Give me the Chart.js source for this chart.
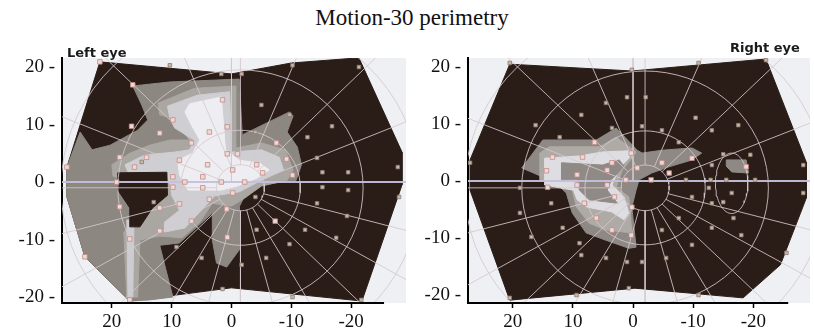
<!DOCTYPE html>
<html>
<head>
<meta charset="utf-8">
<script src="https://cdn.jsdelivr.net/npm/chart.js@4"></script>
<style>
body { margin: 0; background: #fff; width: 814px; height: 336px; overflow: hidden; position: relative; }
canvas { position: absolute; top: 0; }
#title { position: absolute; left: 5px; width: 814px; top: 6px; text-align: center; font: 23px/23px "Liberation Serif", serif; color: #111; }
.eye { position: absolute; z-index: 2; font: bold 13px/13px "DejaVu Sans", sans-serif; color: #1a1a1a; }
</style>
</head>
<body>
<div id="title">Motion-30 perimetry</div>
<div class="eye" style="left:67px;top:46px">Left eye</div>
<div class="eye" style="left:730px;top:41px">Right eye</div>
<canvas id="leftEye" width="410" height="336" style="left:0"></canvas>
<canvas id="rightEye" width="404" height="336" style="left:410px"></canvas>
<script>
// axis ticks (degrees)
const xTicks = [20, 10, 0, -10, -20];
const yTicks = [20, 10, 0, -10, -20];

// polar grid of the perimeter
const gridRings = [4, 10, 20.5, 30];
const gridAngles = [0, 22.5, 45, 67.5, 90, 112.5, 135, 157.5, 195, 210, 225, 240, 255, 270, 285, 300, 315, 330, 345];
const leftCentre = [-1.5, -1];
const rightCentre = [-2, -1.2];

// left eye: tested field and sensitivity zones, outline points [x, y]
const leftField = [[22,20.9],[0,18.8],[-10,20.7],[-21.3,21.6],[-28.5,5.2],[-28.5,-0.5],[-21.8,-20.7],[0,-18.4],[17,-20.7],[24.5,-13],[27.5,-2.6],[27.5,2.6]];
const leftZone1 = [[17,-20.7],[24.5,-13],[27.5,-2.6],[27.5,2.6],[25.3,8.7],[23.3,5.6],[20.3,6.4],[15.7,9],[14,10.8],[15,13.4],[16.5,16.7],[10.3,17.4],[-1.3,17.9],[-1.8,8.2],[-9.7,12.2],[-10.3,11.5],[-9.3,8.7],[-11,6.1],[-11.7,3],[-10.8,0.3],[-3,-0.7],[-1.3,-4.3],[-1.3,-11.8],[0.8,-14.8],[2.5,-14.1],[3.2,-10.1],[3.2,-5.4],[8.7,-10.6],[12,-11],[9.8,-20],[13.7,-20.5]];
const leftZone2 = [[12.3,13.7],[6.2,16.3],[-0.7,16.7],[-0.7,5.9],[-5,6.8],[-9,5.6],[-10.3,2.1],[-9.3,0.3],[-5,-0.7],[-2.2,-2.8],[0,-4.2],[3.2,-3.7],[5.3,-7],[8.3,-9.7],[12,-9.4],[15.3,-10.1],[15.7,-20],[17.5,-20],[18,-8.7],[15.3,-5.7],[12.3,-4],[11.2,-2.3],[12,0],[17.8,0.3],[19.8,1],[20,3],[17,5],[13.7,6.4],[10.3,7.3],[7,7.3],[8.7,10.8],[12,11.7]];
const leftZone3 = [[10.7,13.2],[5.7,15.1],[0.3,15.7],[0,5.2],[-5,5.6],[-8,4.3],[-8.7,2.1],[-5,0.3],[-1.3,-1.7],[2.8,-2.4],[5.3,-5.2],[7.8,-8],[11.2,-8.7],[11.2,-7],[8.7,-4.9],[10,-2.3],[10.3,-0.2],[13.7,1.2],[17.3,1.7],[17.8,3],[14.5,4.7],[9.5,5.2],[7,5.6],[6.2,7.3],[9.5,9.4],[10.3,11.1]];
const leftZone4 = [[7,13.6],[1.7,14.8],[1,5.6],[-1.3,3.8],[-4.7,3.3],[-6.3,2.1],[-4.3,0.7],[-1,-0.7],[1.7,-1.4],[4.5,-1.4],[7.3,-1.4],[8.7,1.2],[9,3.8],[6.5,5],[5.3,7.3],[6.7,9.9],[7.8,12.2]];
const leftStrip = [[17.5,-6.6],[16.3,-6.6],[16.5,-20],[17.3,-20]];
const leftScotoma = [[19,1.6],[10.8,1.7],[10.7,-2.3],[13.2,-4.5],[15.3,-7.8],[17,-7.8],[17,-4.5],[19,-1.4]];
const leftSpotsDark = [[10.3,20.3],[1.7,18.8],[-1.7,18.8],[-10.2,20.3],[-21.3,20],[-5,13.4],[-9.7,11.7],[-16.8,9.7],[-12.7,7.8],[-4,8.7],[-14.3,4.2],[-15.2,1.7],[-19.5,1.7],[-27.8,2.6],[-15.2,-0.9],[-19.5,-1.4],[-28,-2.6],[-4,-2.6],[-14.3,-3.7],[-19.3,-5.9],[-4.2,-8.3],[-12.3,-8.3],[-17.5,-9.7],[-9.7,-10.8],[9.2,-11.3],[5,-13.2],[-1.7,-14.4],[-5.8,-13.2],[-10.2,-20],[1.5,-18.6],[-21.7,-20.5],[15,3.5],[13,-3.5]];
const leftSpotsLight = [[1.5,14.3],[9.8,10.8],[3.7,8.7],[0.7,9.6],[6.7,6.8],[0.7,4.9],[-1,4.9],[-7.5,6.8],[14.2,4.3],[8.7,3.8],[4,3],[-0.2,2.1],[-4.2,3],[-9.2,4],[18.7,4.3],[16.2,2.6],[9.8,0.9],[7.8,0],[4.8,0.9],[1.7,0],[-2.2,0],[-5.2,1.6],[-10.2,1.2],[9.8,-0.9],[4.8,-1],[-0.2,-1.9],[3.7,-3],[8.7,-3.8],[12,-4.5],[18.7,-4.3],[6.7,-6.8],[12,-8.5],[17,-9.9],[0.7,-9.6],[0.8,-4.7],[-7.3,-6.8],[17,-20.5],[24.5,-13],[19.2,0],[27.5,2.6],[16.7,9.7],[12,8.5],[22,20.9],[16.5,16.9]];

// right eye
const rightField = [[20.5,20.5],[0.2,19.3],[-22.1,21.4],[-28.8,3.3],[-28.8,-3],[-24.5,-14.7],[-18.3,-20.5],[-0.3,-18.8],[20.5,-20.9],[27.1,-1.6],[27.1,3.7]];
const rightZone1 = [[18.5,2.3],[15,7.2],[6.1,7.2],[2.8,9.3],[-0.7,5.4],[-1.5,4.9],[-4.8,5.4],[-9.8,5.8],[-11.4,4.9],[-9.8,3.7],[-6,2.5],[-3.1,1.4],[-1,0.2],[-0.5,-1.6],[0.2,-4.6],[-0.5,-11.6],[0.7,-11.8],[4.5,-10.4],[7.8,-9.1],[10.1,-5.6],[11.1,-2.1],[13.4,0.2],[15,0.7]];
const rightIsland = [[-15.5,3.7],[-18.8,3.7],[-19.2,1.4],[-16.4,1.6],[-15.5,2.6]];
const rightZone2 = [[15.5,4.9],[13.9,6],[5.6,6],[2.8,7.7],[-0.5,5.1],[0.2,4],[1.8,1.9],[2.8,-1.1],[0.7,-2.8],[0.2,-9.1],[4.5,-8.6],[7.3,-7.4],[9.4,-4.6],[10.1,-1.6],[12.2,-0.2],[15.5,0.2]];
const rightZone3 = [[14.7,4],[8.9,4.4],[5.1,5.1],[0.7,5.3],[0.7,4],[2.3,2.3],[3.5,-0.7],[1.5,-2.8],[0.7,-5.6],[1.5,-6.8],[3.6,-5.4],[7.6,-4.6],[9.3,-3.3],[9.9,-1.6],[12.2,-1.2],[14.7,-0.7]];
const rightCore = [[11.9,3.2],[5.1,2.8],[2.3,3.7],[1.5,2.6],[3.6,0.2],[4.3,-1.6],[2.6,-3.9],[7.3,-3.3],[8.9,-1.6],[9.4,0.2],[11.9,0.2]];
const rightBlindSpot = [-16.4, -0.4, 2.7, 5.3];
const rightSpotsDark = [[1,14.7],[-2.1,14.7],[4.5,13.7],[8.6,11.6],[-10.4,11.1],[16.2,9.8],[12.2,7.7],[3.5,9.3],[-1.5,9.6],[-4.8,8.9],[-7.6,6.8],[-13.1,8.9],[-17.5,9.8],[-15,4.7],[-19.5,4.6],[-13.1,2.8],[-28.3,2.8],[-8.8,0.2],[-12.9,0.2],[-15.5,0.2],[-20.3,0.2],[-12.6,-1.2],[-16.4,-2.1],[-9.8,-2.8],[-13.1,-3.9],[-15,-3.7],[-28.3,-2.1],[-7.6,-6.5],[-16.7,-6.5],[-4.8,-8.6],[-13.1,-8.2],[-18,-9.5],[-9.8,-11.2],[-25.5,-12.6],[-1.5,-14.2],[1,-14.2],[-5.5,-13.5],[4.5,-13.5],[8.6,-13],[8.9,-10.9],[11.7,-8.2],[16.9,-9.8],[13.6,-3.9],[18.8,-5.6],[18.8,-1.2],[9.4,-20],[0.7,-18.8],[-10.9,-20],[20.5,-20.5],[20.5,20.7],[0.2,19.5],[-10.9,20.7],[-22.1,21.2],[27.1,3.2]];
const rightSpotsLight = [[13.4,4.2],[8.4,4.2],[3.5,3.2],[0.3,4.9],[14.4,1.8],[9.3,1.1],[4.3,1.9],[-0.7,2.3],[14.2,-1.1],[9.3,-0.7],[4.3,-0.7],[1.2,0.2],[-3,0.2],[-4.8,3.2],[-6,1.4],[-9.8,4],[3.1,-2.8],[8.1,-3.9],[0.2,-4.6],[6.1,-6.5],[3.5,-8.6],[0.3,-9.5],[6.4,6.8],[-18.8,2.5]];

const DARK = '#2a1d17';
const GRID = 'rgba(214,200,204,0.85)';
const tickFont = { family: 'Liberation Serif', size: 19 };

const xy = a => a.map(p => ({ x: p[0], y: p[1] }));

function poly(points, colour, order) {
  const d = xy(points);
  d.push(d[0]);
  return { data: d, showLine: true, fill: 'shape', backgroundColor: colour, borderColor: colour,
    borderWidth: 1, pointRadius: 0, order: order };
}

function path(points, colour, width, order, clip) {
  return { data: xy(points), showLine: true, fill: false, borderColor: colour, borderWidth: width,
    pointRadius: 0, order: order, clip: clip };
}

function ellipse(cx, cy, rx, ry) {
  const out = [];
  for (let a = 0; a <= 360; a += 5) {
    const t = a * Math.PI / 180;
    out.push([cx + rx * Math.cos(t), cy + ry * Math.sin(t)]);
  }
  return out;
}

function spots(points, fillCol, lineCol, r) {
  return { data: xy(points), showLine: false, pointStyle: 'rect', pointRadius: r, pointHoverRadius: r,
    backgroundColor: fillCol, borderColor: lineCol, borderWidth: 0.8, order: 1 };
}

function gridSets(c, xr) {
  const sets = [];
  gridRings.forEach(r => sets.push(path(ellipse(c[0], c[1], r, r), GRID, 1, 4)));
  gridAngles.forEach(a => {
    const t = a * Math.PI / 180;
    sets.push(path([[c[0] + 4 * Math.cos(t), c[1] + 4 * Math.sin(t)], [c[0] + 40 * Math.cos(t), c[1] + 40 * Math.sin(t)]], GRID, 1, 4));
  });
  sets.push(path([[xr[1], 0], [xr[0], 0]], 'rgba(196,192,220,0.95)', 2, 3));
  sets.push(path([[0, 22], [0, 0]], GRID, 1, 3));
  return sets;
}

const panel = {
  id: 'panel',
  beforeDraw(chart) {
    const { ctx, chartArea: a } = chart;
    ctx.save();
    ctx.fillStyle = '#eef0f3';
    ctx.fillRect(a.left, a.top, a.right - a.left, a.bottom - a.top);
    ctx.restore();
  }
};

function eyeChart(id, o) {
  new Chart(document.getElementById(id), {
    type: 'scatter',
    data: { datasets: o.sets.concat([path([[o.x[1], o.y[0]], [o.axisEnd, o.y[0]]], '#000', 2, 0, false)]) },
    options: {
      responsive: false,
      animation: false,
      layout: { padding: { top: 58, right: o.padRight, bottom: 0, left: 0 } },
      plugins: { legend: { display: false }, tooltip: { enabled: false } },
      scales: {
        x: {
          type: 'linear', reverse: true, min: o.x[0], max: o.x[1],
          afterBuildTicks: s => { s.ticks = xTicks.map(v => ({ value: v })); },
          afterFit: s => { s.height = 33; },
          border: { display: false },
          grid: { drawOnChartArea: false, tickLength: 5, tickColor: '#000', tickWidth: 1.5 },
          ticks: { color: '#111', font: tickFont, padding: 3, maxRotation: 0, autoSkip: false, callback: v => String(v) }
        },
        y: {
          type: 'linear', min: o.y[0], max: o.y[1],
          afterBuildTicks: s => { s.ticks = yTicks.map(v => ({ value: v })); },
          afterFit: s => { s.width = o.yWidth; },
          border: { display: true, color: '#000', width: 2 },
          grid: { drawOnChartArea: false, drawTicks: false },
          ticks: { color: '#111', font: tickFont, padding: 7, callback: v => v + ' -' }
        }
      }
    },
    plugins: [panel]
  });
}

const leftRange = [-29.17, 28.33];
eyeChart('leftEye', {
  x: leftRange, y: [-21.04, 21.57], yWidth: 62, padRight: 3, axisEnd: -25.5,
  sets: [
    poly(leftField, DARK, 20),
    poly(leftZone1, '#8c8781', 19),
    poly(leftZone2, '#aaa6a2', 18),
    poly(leftStrip, '#cdcdd1', 17),
    poly(leftZone3, '#cfcfd3', 16),
    poly(leftZone4, '#eeeef2', 15),
    poly(leftScotoma, DARK, 14),
    spots(leftSpotsDark, '#c9b8a8', '#8a7a70', 2.5),
    spots(leftSpotsLight, '#efd9d6', '#c48a88', 3.2)
  ].concat(gridSets(leftCentre, leftRange))
});

const rightRange = [-29.42, 27.44];
eyeChart('rightEye', {
  x: rightRange, y: [-21.4, 21.58], yWidth: 58, padRight: 2, axisEnd: -25.8,
  sets: [
    poly(rightField, DARK, 20),
    poly(rightZone1, '#8e8984', 19),
    poly(rightIsland, '#8e8984', 19),
    poly(rightZone2, '#aeaaa6', 18),
    poly(rightZone3, '#dedee2', 17),
    poly(rightCore, '#8f8a85', 16),
    path(ellipse(rightBlindSpot[0], rightBlindSpot[1], rightBlindSpot[2], rightBlindSpot[3]), GRID, 1, 4),
    spots(rightSpotsDark, '#c9b8a8', '#8a7a70', 2.5),
    spots(rightSpotsLight, '#efd9d6', '#c48a88', 3.2)
  ].concat(gridSets(rightCentre, rightRange))
});
</script>
</body>
</html>
